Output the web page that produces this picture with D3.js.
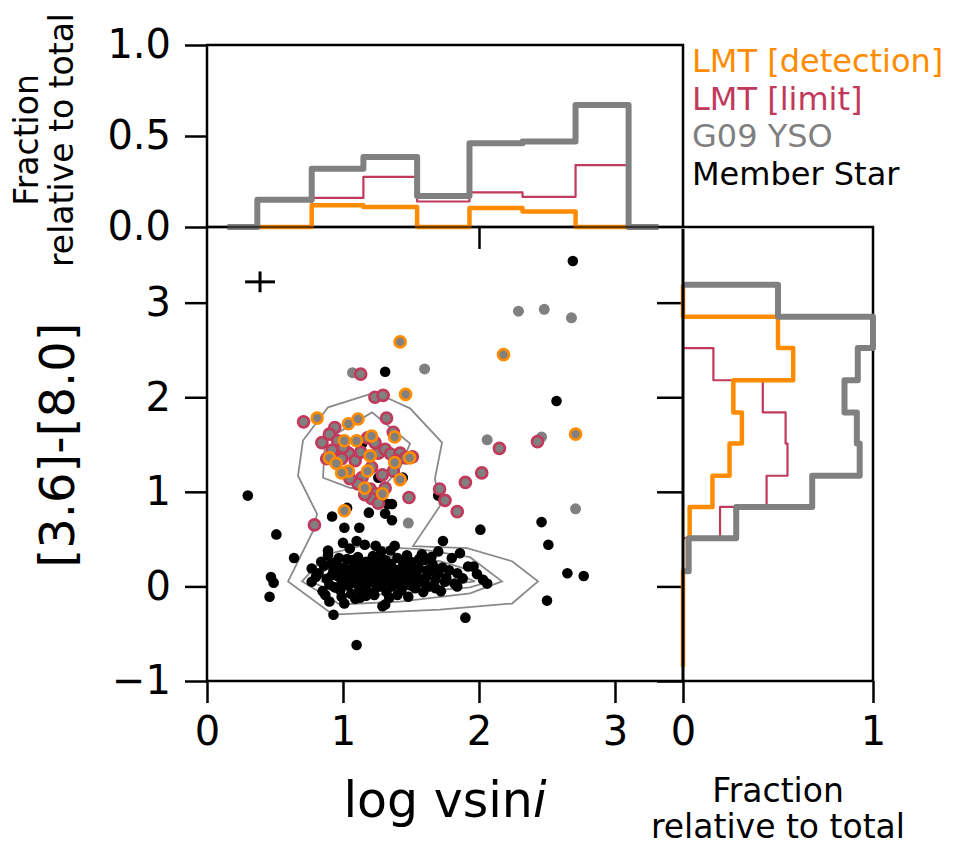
<!DOCTYPE html>
<html><head><meta charset="utf-8">
<script src="https://cdn.jsdelivr.net/npm/d3@7"></script>
<style>body{margin:0;background:#fff} text{font-family:"DejaVu Sans",sans-serif}</style>
</head><body><svg id="c" width="955" height="845"></svg>
<script>
// ---------------- DATA ----------------
const seriesNames = ["LMT [detection]", "LMT [limit]", "G09 YSO", "Member Star"];
const xTicks = [0, 1, 2, 3];
const yTicks = [-1, 0, 1, 2, 3];
const topYTicks = [0, 0.5, 1.0];
const topYTickLabels = ["0.0", "0.5", "1.0"];
const topXTicks = [2];
const rightXTicks = [0, 1];

// top histogram (fraction vs log vsini); null = bin not drawn
const topEdges = [0.15, 0.37, 0.77, 1.15, 1.545, 1.93, 2.32, 2.71, 3.10, 3.32];
const topGray = [0, 0.15, 0.32, 0.385, 0.17, 0.46, 0.47, 0.67, 0];
const topRed = [null, null, 0.16, 0.275, 0.14, 0.19, 0.165, 0.34, null];
const topOrange = [null, 0, 0.12, 0.11, 0, 0.105, 0.085, 0, null];

// right histogram (fraction vs [3.6]-[8.0])
const rightEdges = [3.19, 2.85, 2.52, 2.18, 1.84, 1.51, 1.17, 0.84, 0.51, 0.16, -0.18, -0.51, -0.85];
const rightGray = [0.50, 1.0, 0.92, 0.85, 0.915, 0.93, 0.68, 0.28, 0.03, null, null, null];
const rightRed = [null, null, 0.16, 0.42, 0.54, 0.55, 0.44, 0.195, null, null, null, null];
const rightOrange = [0, 0.50, 0.58, 0.265, 0.31, 0.245, 0.155, 0.035, 0.025, 0, 0, 0];

// scatter points [log vsini, [3.6]-[8.0]]
const memberStars = [
[2.69,3.44],[2.57,1.96],[1.31,2.27],[0.30,0.96],[0.51,0.55],[0.64,0.30],[0.47,0.10],[0.49,0.04],[0.46,-0.11],[1.10,-0.62],[0.93,-0.30],[2.01,0.60],[2.46,0.68],[2.51,0.44],[2.65,0.14],[2.77,0.11],[2.50,-0.15],[1.90,-0.33],
[0.92,0.74],[1.01,0.62],[1.12,0.62],[1.19,0.78],[1.31,0.77],[1.36,0.70],[1.36,0.87],[1.00,0.46],[1.10,0.48],[0.89,0.38],[1.38,0.43],[1.24,0.43],[1.16,0.44],[1.05,0.40],[1.735,0.48],[1.70,0.37],[1.58,0.34],
[1.14,1.51],[1.44,1.15],[1.26,1.15],[1.70,0.96],[1.33,0.87],[1.235,0.99],[1.03,0.83],
[0.77,0.19],[0.77,0.05],[0.85,-0.05],[0.90,-0.16],[1.01,-0.18],[1.125,-0.12],[1.29,-0.21],[1.31,-0.19],[1.48,-0.11],[0.89,0.33],[0.97,0.30],
[0.82,0.14],[0.86,0.22],[0.88,0.08],[0.90,0.02],[0.93,0.17],[0.95,0.26],[0.96,0.11],[0.98,-0.04],[0.99,0.05],[1.01,0.20],
[1.02,0.14],[1.03,0.29],[1.04,0.01],[1.05,0.09],[1.06,-0.08],[1.07,0.18],[1.08,0.24],[1.09,0.04],[1.10,0.12],[1.11,0.31],
[1.12,-0.03],[1.13,0.07],[1.14,0.20],[1.15,0.15],[1.16,0.02],[1.17,0.26],[1.18,0.10],[1.19,-0.06],[1.20,0.17],[1.21,0.05],
[1.22,0.32],[1.23,0.12],[1.24,0.22],[1.25,-0.01],[1.26,0.08],[1.27,0.16],[1.28,0.27],[1.29,0.03],[1.30,0.11],[1.31,0.20],
[1.32,-0.06],[1.33,0.06],[1.34,0.14],[1.35,0.24],[1.36,0.00],[1.37,0.09],[1.38,0.18],[1.40,0.30],[1.41,0.05],[1.42,0.13],
[1.43,-0.04],[1.44,0.21],[1.46,0.09],[1.47,0.02],[1.48,0.16],[1.50,0.26],[1.51,0.07],[1.53,-0.02],[1.54,0.12],[1.56,0.19],
[1.58,0.05],[1.60,0.28],[1.61,0.10],[1.63,0.00],[1.64,0.16],[1.66,0.23],[1.68,0.07],[1.70,0.14],[1.72,-0.05],[1.73,0.20],
[1.76,0.09],[1.78,0.17],[1.80,0.30],[1.82,0.03],[1.84,0.14],[1.86,0.35],[1.88,0.085],[1.92,0.21],[1.96,0.21],[1.985,0.13],[2.03,0.07],[2.06,0.03],[1.75,0.05],[1.84,0.00],[1.68,-0.02],[1.66,0.18],
[0.92,0.12],[0.94,-0.01],[1.00,0.10],[1.03,0.16],[1.06,0.04],[1.08,0.13],[1.12,0.09],[1.15,-0.02],[1.18,0.04],[1.21,0.14],[1.25,0.09],[1.28,0.00],[1.33,0.19],[1.37,0.03],[1.39,0.12],[1.45,0.15],[1.50,0.01],[1.55,0.08],[1.62,0.17],[1.35,0.38],[1.28,0.37],[1.47,0.33],[1.56,0.29],[0.99,-0.11],[1.17,-0.10],[1.40,-0.09],
[0.80,0.10],[0.84,0.26],[0.87,-0.09],[0.91,0.24],[0.97,0.19],[1.02,0.03],[1.07,0.28],[1.09,-0.13],[1.13,0.25],[1.19,0.23],[1.23,-0.09],[1.27,0.22],[1.31,0.28],[1.34,-0.12],[1.44,0.27],[1.52,0.20],[1.59,-0.06],[1.65,0.31]
];
const g09YSO = [[2.29,2.91],[2.48,2.93],[2.68,2.84],[2.06,1.55],[2.46,1.58],[1.07,2.26],[1.60,2.30],[2.71,0.82],[1.48,0.67]];
const lmtLimit = [
[1.13,2.245],[1.235,2.00],[1.295,2.02],[0.71,1.74],[1.32,1.78],[0.94,1.68],[0.90,1.61],[0.845,1.52],[1.37,1.63],[2.15,1.46],[2.43,1.53],[2.02,1.20],[1.90,1.10],[1.84,0.79],[1.75,0.91],[1.71,1.03],[0.79,0.65],[1.485,0.94],
[1.18,1.57],[0.96,1.54],[1.04,1.41],[1.09,1.33],[1.235,1.52],[1.26,1.41],[1.31,1.45],[1.35,1.40],[1.42,1.41],[1.39,1.33],[1.46,1.36],[1.51,1.37],[1.37,1.22],[1.21,1.26],[1.14,1.15],[1.11,1.085],[1.20,1.03],[1.24,0.98],[1.31,1.04],[1.21,0.93],[1.26,0.88],[0.88,1.35],[0.99,1.35],[1.05,1.14],[1.13,1.42],[1.29,1.18],[1.16,0.97],[1.00,1.47],[0.92,1.44]
];
const lmtDetection = [
[1.42,2.585],[1.46,2.03],[0.81,1.78],[1.04,1.72],[1.11,1.77],[1.01,1.54],[1.10,1.54],[1.21,1.59],[1.38,1.58],[2.18,2.45],[2.71,1.61],[0.90,1.36],[1.20,1.38],[1.49,1.36],[1.38,1.31],[1.04,1.22],[0.99,1.20],[1.18,1.22],[1.16,1.04],[1.42,1.13],[1.29,0.98],[1.01,0.80],[0.95,1.30]
];
// typical error bar
const errCenter = [0.39, 3.22], errX = 0.11, errY = 0.11;

// density contours (closed polygons, data coords)
const contours = [
[[0.706,1.543],[0.890,1.894],[1.221,2.043],[1.331,1.989],[1.493,1.883],[1.728,1.521],[1.676,1.138],[1.713,0.851],[1.515,0.426],[1.912,0.404],[2.243,0.266],[2.434,0.053],[2.243,-0.181],[1.713,-0.245],[0.926,-0.298],[0.596,0.053],[0.779,0.585],[0.809,0.766],[0.669,1.170]],
[[0.853,1.149],[0.868,1.543],[1.213,1.840],[1.493,1.511],[1.419,1.255],[1.272,1.011],[1.051,1.043]],
[[0.699,0.053],[0.882,0.340],[1.125,0.426],[1.566,0.394],[1.934,0.309],[2.169,0.053],[1.934,-0.074],[1.419,-0.160],[0.978,-0.191]],
[[0.757,0.053],[0.941,0.245],[1.272,0.319],[1.713,0.266],[2.007,0.138],[2.081,0.053],[1.934,-0.011],[1.419,-0.074],[1.015,-0.106]],
[[0.846,0.053],[1.015,0.181],[1.419,0.213],[1.787,0.160],[1.971,0.053],[1.713,0.011],[1.272,-0.032],[0.978,-0.032]],
[[0.941,0.074],[1.125,0.138],[1.419,0.138],[1.566,0.074],[1.382,0.021],[1.088,0.021]]
];

// ---------------- STYLE ----------------
const C_OR = "#ff8c00", C_RED = "#c1395b", C_GRAY = "#808080";
const svg = d3.select("#c");
const x = d3.scaleLinear().domain([0, 3.5]).range([207, 683]);
const y = d3.scaleLinear().domain([-1, 3.8]).range([681, 227]);
const ty = d3.scaleLinear().domain([0, 1]).range([227, 45]);
const rx = d3.scaleLinear().domain([0, 1]).range([683, 873]);
const TF = 40;

function styleAxis(g, fs) {
  g.select(".domain").remove();
  g.selectAll(".tick line").attr("stroke", "#000").attr("stroke-width", 2.5);
  g.selectAll(".tick text").attr("font-size", fs).attr("fill", "#000").attr("font-family", "DejaVu Sans");
}

// spines
const sp = svg.append("g").attr("fill", "none").attr("stroke", "#000").attr("stroke-width", 2.5);
sp.append("rect").attr("x", 207).attr("y", 45).attr("width", 476).attr("height", 182);
sp.append("path").attr("d", "M207,227V681H683");
sp.append("path").attr("d", "M683,227H873V681H683");

// axes
const fmtMinus = d => (d < 0 ? "\u2212" + Math.abs(d) : String(d));
svg.append("g").attr("transform", "translate(0,681)")
  .call(d3.axisBottom(x).tickValues(xTicks).tickSize(22).tickPadding(14).tickFormat(fmtMinus))
  .call(g => styleAxis(g, TF));
svg.append("g").attr("transform", "translate(207,0)")
  .call(d3.axisLeft(y).tickValues(yTicks).tickSize(22).tickPadding(14).tickFormat(fmtMinus))
  .call(g => styleAxis(g, TF));
svg.append("g").attr("transform", "translate(207,0)")
  .call(d3.axisLeft(ty).tickValues(topYTicks).tickSize(22).tickPadding(14).tickFormat((d, i) => topYTickLabels[i]))
  .call(g => styleAxis(g, TF));
svg.append("g").attr("transform", "translate(0,227)")
  .call(d3.axisBottom(x).tickValues(topXTicks).tickSize(22).tickFormat(""))
  .call(g => styleAxis(g, TF));
svg.append("g").attr("transform", "translate(683,0)")
  .call(d3.axisLeft(y).tickValues(yTicks).tickSize(26).tickFormat(""))
  .call(g => styleAxis(g, TF));
svg.append("g").attr("transform", "translate(0,681)")
  .call(d3.axisBottom(rx).tickValues(rightXTicks).tickSize(22).tickPadding(14).tickFormat(d3.format("d")))
  .call(g => styleAxis(g, TF));

// histogram step paths
function topStep(vals) {
  const idx = vals.map((v, i) => v == null ? -1 : i).filter(i => i >= 0);
  const i0 = idx[0], i1 = idx[idx.length - 1];
  const pts = [[topEdges[i0], 0]];
  for (let i = i0; i <= i1; i++) { pts.push([topEdges[i], vals[i]]); pts.push([topEdges[i + 1], vals[i]]); }
  pts.push([topEdges[i1 + 1], 0]);
  return d3.line().x(d => x(d[0])).y(d => ty(d[1]))(pts);
}
function rightStep(vals) {
  const idx = vals.map((v, i) => v == null ? -1 : i).filter(i => i >= 0);
  const i0 = idx[0], i1 = idx[idx.length - 1];
  const pts = [[0, rightEdges[i0]]];
  for (let i = i0; i <= i1; i++) { pts.push([vals[i], rightEdges[i]]); pts.push([vals[i], rightEdges[i + 1]]); }
  pts.push([0, rightEdges[i1 + 1]]);
  return d3.line().x(d => rx(d[0])).y(d => y(d[1]))(pts);
}
const hist = svg.append("g").attr("fill", "none").attr("stroke-linejoin", "round");
hist.append("path").attr("d", topStep(topRed)).attr("stroke", C_RED).attr("stroke-width", 2.2);
hist.append("path").attr("d", topStep(topOrange)).attr("stroke", C_OR).attr("stroke-width", 4.5);
hist.append("path").attr("d", topStep(topGray)).attr("stroke", C_GRAY).attr("stroke-width", 6);
hist.append("path").attr("d", rightStep(rightRed)).attr("stroke", C_RED).attr("stroke-width", 2.2);
hist.append("path").attr("d", rightStep(rightOrange)).attr("stroke", C_OR).attr("stroke-width", 4.5);
hist.append("path").attr("d", rightStep(rightGray)).attr("stroke", C_GRAY).attr("stroke-width", 6);
// shared spines drawn over the zero-level outlines
svg.append("path").attr("d", "M683,229V681").attr("stroke", "#000").attr("stroke-width", 3).attr("fill", "none");
svg.append("path").attr("d", "M207,227H683").attr("stroke", "#000").attr("stroke-width", 2.5).attr("fill", "none").attr("opacity", 0.6);

// contours
svg.append("g").selectAll("path").data(contours).join("path")
  .attr("d", d3.line().x(d => x(d[0])).y(d => y(d[1])).curve(d3.curveLinearClosed))
  .attr("fill", "none").attr("stroke", "#8a8a8a").attr("stroke-width", 1.8);

// points
svg.append("g").selectAll("circle").data(memberStars).join("circle")
  .attr("cx", d => x(d[0])).attr("cy", d => y(d[1])).attr("r", 5.3).attr("fill", "#000");
svg.append("g").selectAll("circle").data(g09YSO).join("circle")
  .attr("cx", d => x(d[0])).attr("cy", d => y(d[1])).attr("r", 5.5).attr("fill", C_GRAY);
svg.append("g").selectAll("circle").data(lmtLimit).join("circle")
  .attr("cx", d => x(d[0])).attr("cy", d => y(d[1])).attr("r", 5.5).attr("fill", C_GRAY)
  .attr("stroke", C_RED).attr("stroke-width", 2.7);
svg.append("g").selectAll("circle").data(lmtDetection).join("circle")
  .attr("cx", d => x(d[0])).attr("cy", d => y(d[1])).attr("r", 5.5).attr("fill", C_GRAY)
  .attr("stroke", C_OR).attr("stroke-width", 2.7);

// error cross
const eb = svg.append("g").attr("stroke", "#000").attr("stroke-width", 3);
eb.append("line").attr("x1", x(errCenter[0] - errX)).attr("x2", x(errCenter[0] + errX))
  .attr("y1", y(errCenter[1])).attr("y2", y(errCenter[1]));
eb.append("line").attr("x1", x(errCenter[0])).attr("x2", x(errCenter[0]))
  .attr("y1", y(errCenter[1] - errY)).attr("y2", y(errCenter[1] + errY));

// legend text
const legColors = [C_OR, C_RED, C_GRAY, "#000"];
svg.append("g").selectAll("text").data(seriesNames).join("text")
  .attr("x", 692).attr("y", (d, i) => 72 + i * 37.5).attr("font-size", 32)
  .attr("fill", (d, i) => legColors[i]).text(d => d);

// axis labels
const xl = svg.append("text").attr("x", 445).attr("y", 817).attr("text-anchor", "middle").attr("font-size", 49);
xl.append("tspan").text("log vsin");
xl.append("tspan").attr("font-style", "italic").text("i");
svg.append("text").attr("transform", "translate(74,445) rotate(-90)").attr("text-anchor", "middle")
  .attr("font-size", 48).text("[3.6]-[8.0]");
svg.append("text").attr("transform", "translate(38,140) rotate(-90)").attr("text-anchor", "middle")
  .attr("font-size", 33).text("Fraction");
svg.append("text").attr("transform", "translate(73,140) rotate(-90)").attr("text-anchor", "middle")
  .attr("font-size", 33).text("relative to total");
svg.append("text").attr("x", 778).attr("y", 802).attr("text-anchor", "middle").attr("font-size", 33).text("Fraction");
svg.append("text").attr("x", 778).attr("y", 838).attr("text-anchor", "middle").attr("font-size", 33).text("relative to total");
</script></body></html>
